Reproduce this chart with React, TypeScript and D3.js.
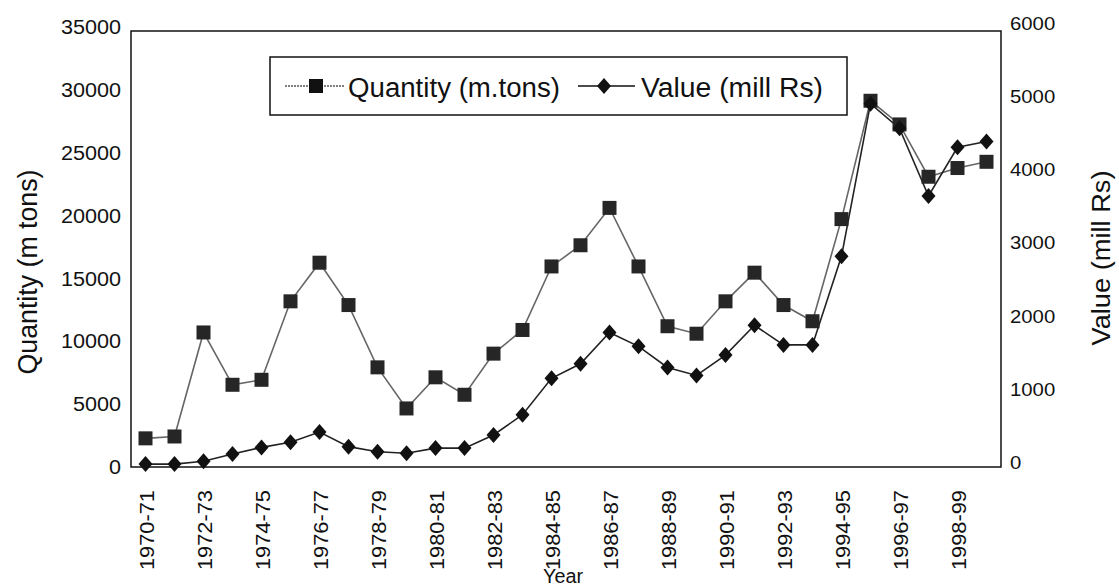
import React from "react";
import * as d3 from "d3";

const years = [
  "1970-71","1971-72","1972-73","1973-74","1974-75","1975-76","1976-77","1977-78","1978-79","1979-80",
  "1980-81","1981-82","1982-83","1983-84","1984-85","1985-86","1986-87","1987-88","1988-89","1989-90",
  "1990-91","1991-92","1992-93","1993-94","1994-95","1995-96","1996-97","1997-98","1998-99","1999-00",
];
const quantity = [
  2300, 2450, 10800, 6600, 7000, 13300, 16400, 13000, 8000, 4700,
  7200, 5800, 9100, 11000, 16100, 17800, 20800, 16100, 11300, 10700,
  13300, 15600, 13000, 11700, 19900, 29400, 27500, 23300, 24000, 24500,
];
const value = [
  40, 40, 80, 180, 270, 340, 480, 280, 210, 190,
  260, 260, 440, 720, 1220, 1420, 1850, 1660, 1370, 1260,
  1540, 1950, 1680, 1680, 2900, 5000, 4660, 3730, 4400, 4480,
];
const leftTicks = [0, 5000, 10000, 15000, 20000, 25000, 30000, 35000];
const rightTicks = [0, 1000, 2000, 3000, 4000, 5000, 6000];

const W = 1119, H = 588;
const L = 131, R = 1001, T = 31, B = 467;
const FONT = "'Liberation Sans', Arial, sans-serif";

export default function App() {
  const x = d3.scalePoint<string>().domain(years).range([L, R]).padding(0.5);
  const yL = d3.scaleLinear().domain([0, 35000]).range([B, T]);
  const yR = d3.scaleLinear().domain([0, 6000]).range([B, T]);

  const qLine = d3.line<number>().x((_, i) => x(years[i])!).y((d) => yL(d));
  const vLine = d3.line<number>().x((_, i) => x(years[i])!).y((d) => yR(d));

  const sq = 14;
  const diamond = (cx: number, cy: number, rx = 7, ry = 8) =>
    `M${cx},${cy - ry}L${cx + rx},${cy}L${cx},${cy + ry}L${cx - rx},${cy}Z`;

  return (
    <svg width={W} height={H} style={{ position: "absolute", left: 0, top: 0, background: "#fff" }}>
      <rect x={0} y={0} width={W} height={H} fill="#fff" />
      {/* plot frame */}
      <rect x={L} y={T} width={R - L} height={B - T} fill="none" stroke="#111" strokeWidth={1.5} />

      {/* left ticks */}
      {leftTicks.map((t) => (
        <text key={"l" + t} x={121} y={yL(t) - (t / 35000) * 4} dy="0.36em" textAnchor="end" fontFamily={FONT} fontSize={20}
          textLength={String(t).length * 12} lengthAdjust="spacingAndGlyphs" fill="#111">
          {t}
        </text>
      ))}
      {/* right ticks */}
      {rightTicks.map((t) => (
        <text key={"r" + t} x={1010} y={yR(t) - 5 - (t / 6000) * 3} dy="0.36em" textAnchor="start" fontFamily={FONT} fontSize={19}
          textLength={String(t).length * 11.3} lengthAdjust="spacingAndGlyphs" fill="#111">
          {t}
        </text>
      ))}
      {/* x labels */}
      {years.map((yr, i) =>
        i % 2 === 0 ? (
          <text key={yr} transform={`translate(${x(yr)! + 8},${B + 23}) rotate(-90)`} textAnchor="end" fontFamily={FONT} fontSize={21}
            textLength={80} lengthAdjust="spacingAndGlyphs" fill="#111">
            {yr}
          </text>
        ) : null
      )}
      <text x={563} y={583} textAnchor="middle" fontFamily={FONT} fontSize={20} textLength={40} lengthAdjust="spacingAndGlyphs" fill="#111">Year</text>

      {/* axis titles */}
      <text transform={`translate(37,272) rotate(-90)`} textAnchor="middle" fontFamily={FONT} fontSize={27}
        textLength={205} lengthAdjust="spacingAndGlyphs" fill="#111">
        Quantity (m tons)
      </text>
      <text transform={`translate(1110,258) rotate(-90)`} textAnchor="middle" fontFamily={FONT} fontSize={25}
        textLength={175} lengthAdjust="spacingAndGlyphs" fill="#111">
        Value (mill Rs)
      </text>

      {/* series */}
      <path d={qLine(quantity)!} fill="none" stroke="#666" strokeWidth={1.6} />
      <path d={vLine(value)!} fill="none" stroke="#222" strokeWidth={1.6} />
      {quantity.map((d, i) => (
        <rect key={"q" + i} x={x(years[i])! - sq / 2} y={yL(d) - sq / 2} width={sq} height={sq} fill="#262626" />
      ))}
      {value.map((d, i) => (
        <path key={"v" + i} d={diamond(x(years[i])!, yR(d))} fill="#111" />
      ))}

      {/* legend */}
      <rect x={270} y={57} width={577} height={58} fill="#fff" stroke="#111" strokeWidth={1.5} />
      <line x1={285} x2={345} y1={86} y2={86} stroke="#555" strokeWidth={1.5} strokeDasharray="2,1" />
      <rect x={309} y={79} width={14} height={14} fill="#111" />
      <text x={348} y={97} fontFamily={FONT} fontSize={27} textLength={212} lengthAdjust="spacingAndGlyphs" fill="#111">
        Quantity (m.tons)
      </text>
      <line x1={578} x2={635} y1={86} y2={86} stroke="#111" strokeWidth={1.5} />
      <path d={diamond(604, 86, 7, 8)} fill="#111" />
      <text x={641} y={97} fontFamily={FONT} fontSize={27} textLength={182} lengthAdjust="spacingAndGlyphs" fill="#111">
        Value (mill Rs)
      </text>
    </svg>
  );
}
